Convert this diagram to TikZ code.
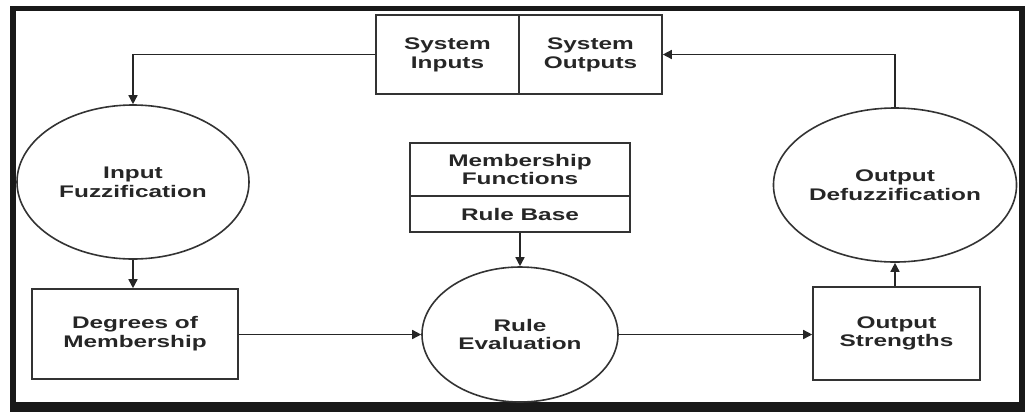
\documentclass[tikz,border=0pt]{standalone}
\usepackage{fontspec}
\newfontfamily\lblfont[FakeStretch=1.45]{Liberation Sans}
\usetikzlibrary{shapes.geometric,arrows.meta}
\begin{document}
\begin{tikzpicture}[x=0.5pt,y=-0.5pt,
  lbl/.style={font=\lblfont\bfseries\fontsize{8.4}{9.4}\selectfont, text=black!85, align=center},
  box/.style={lbl, draw=black!80, line width=0.8pt, rectangle, inner sep=0pt},
  proc/.style={lbl, draw=black!80, line width=0.8pt, ellipse, inner sep=0pt},
  flow/.style={draw=black!85, line width=0.75pt, -{Triangle[length=4.5pt,width=4.5pt]}}]
  \useasboundingbox (0,0) rectangle (1027,414);
  % outer frame
  \draw[black!90, line width=2.7pt] (13,8.5) rectangle (1022,405);
  \fill[black!90] (10,402) rectangle (1025,412);

  % system boundary boxes
  \node[box, minimum width=71.5pt, minimum height=39.5pt] (sysin)  at (447.5,54.5) {System\\Inputs};
  \node[box, minimum width=71.5pt, minimum height=39.5pt] (sysout) at (590.5,54.5) {System\\Outputs};

  % knowledge base
  \node[box, minimum width=110pt, minimum height=26.5pt] (mf) at (520,169.5) {Membership\\Functions};
  \node[box, minimum width=110pt, minimum height=18pt]   (rb) at (520,214) {Rule Base};

  % processing stages
  \node[proc, minimum width=116pt, minimum height=77pt]   (fuzz)   at (133,182) {Input\\Fuzzification};
  \node[proc, minimum width=117pt, minimum height=77pt]   (defuzz) at (895,185) {Output\\Defuzzification};
  \node[proc, minimum width=98pt,  minimum height=67.5pt] (eval)   at (520,334.5) {Rule\\Evaluation};

  % intermediate data
  \node[box, minimum width=103pt, minimum height=45pt]   (deg) at (135,334) {Degrees of\\Membership};
  \node[box, minimum width=83.5pt, minimum height=46.5pt] (str) at (896.5,333.5) {Output\\Strengths};

  % connectors
  \draw[flow] (sysin.west) -| (fuzz.north);
  \draw[flow] (fuzz.south) -- (fuzz.south |- deg.north);
  \draw[flow] (deg.east |- eval.west) -- (eval.west);
  \draw[flow] (rb.south) -- (eval.north);
  \draw[flow] (eval.east) -- (str.west |- eval.east);
  \draw[flow] (defuzz.south |- str.north) -- (defuzz.south);
  \draw[flow] (defuzz.north) |- (sysout.east);
\end{tikzpicture}
\end{document}
